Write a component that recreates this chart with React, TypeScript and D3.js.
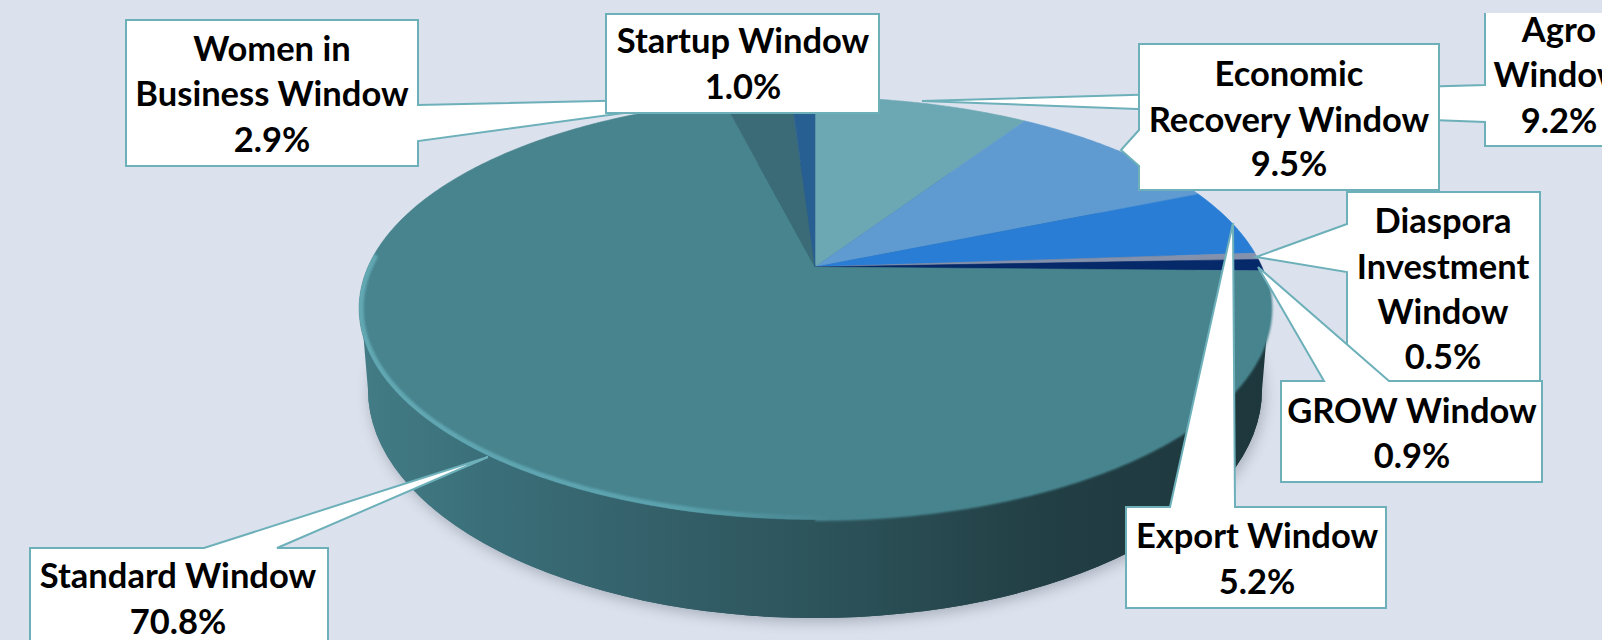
import React from "react";
import * as d3 from "d3";

const categories = ["Agro Window", "Economic Recovery Window", "Export Window", "Diaspora Investment Window", "GROW Window", "Standard Window", "Women in Business Window", "Startup Window"];
const shares = [9.2, 9.5, 5.2, 0.5, 0.9, 70.8, 2.9, 1.0];
const sliceColors = ["#6BA8B3", "#5F9BD0", "#2A7DD4", "#8491AC", "#06296A", "#47848E", "#3B6B77", "#285F92"];

type Callout = { name: string; lines: string[]; box: number[]; cx: number; base: number[]; pointer: number[][]; side: string };
// layout: box = x0,y0,x1,y1
const callouts: Callout[] = [
  { name: "Agro Window", lines: ["Agro", "Window", "9.2%"], box: [1485, 8, 1633, 146], cx: 1559, base: [42, 87, 133], side: "left", pointer: [[1485, 85], [922, 101], [1485, 122]] },
  { name: "Women in Business Window", lines: ["Women in", "Business Window", "2.9%"], box: [126, 20, 418, 166], cx: 272, base: [61, 106, 152], side: "right", pointer: [[418, 105], [734, 98], [418, 141]] },
  { name: "Startup Window", lines: ["Startup Window", "1.0%"], box: [606, 14, 879, 113], cx: 743, base: [53, 99], side: "none", pointer: [] },
  { name: "Economic Recovery Window", lines: ["Economic", "Recovery Window", "9.5%"], box: [1139, 44, 1439, 190], cx: 1289, base: [86, 132, 176], side: "left", pointer: [[1139, 130], [1121, 150], [1139, 166]] },
  { name: "Diaspora Investment Window", lines: ["Diaspora", "Investment", "Window", "0.5%"], box: [1347, 192, 1540, 381], cx: 1443, base: [233, 279, 324, 369], side: "left", pointer: [[1347, 224], [1256, 257], [1347, 272]] },
  { name: "GROW Window", lines: ["GROW Window", "0.9%"], box: [1281, 381, 1542, 482], cx: 1412, base: [423, 468], side: "top", pointer: [[1324, 381], [1258, 267], [1389, 381]] },
  { name: "Export Window", lines: ["Export Window", "5.2%"], box: [1126, 507, 1386, 608], cx: 1257, base: [548, 594], side: "top", pointer: [[1170, 507], [1233, 223], [1235, 507]] },
  { name: "Standard Window", lines: ["Standard Window", "70.8%"], box: [30, 548, 328, 680], cx: 178, base: [588, 634], side: "top", pointer: [[204, 548], [488, 457], [277, 548]] },
];

const APEX_X = 815, APEX_Y = 267, A = 447, B = 203, K = 0.196;
const project = (t: number): [number, number] => {
  const u = Math.sin(t), v = -Math.cos(t), d = 1 - K * v;
  return [APEX_X + (A * u) / d, APEX_Y + (B * v) / d];
};
const line = d3.line<[number, number]>();
const arcPts = (a0: number, a1: number) => {
  const n = Math.max(2, Math.ceil((a1 - a0) / 0.01));
  return d3.range(n + 1).map((i) => project(a0 + ((a1 - a0) * i) / n));
};

function calloutPath(c: Callout) {
  const [x0, y0, x1, y1] = c.box;
  const p = c.pointer;
  let pts: number[][] = [];
  if (c.side === "left") pts = [[x0, y0], [x1, y0], [x1, y1], [x0, y1], ...[...p].reverse()];
  else if (c.side === "right") pts = [[x0, y0], [x1, y0], ...p, [x1, y1], [x0, y1]];
  else if (c.side === "top") pts = [[x0, y0], ...p, [x1, y0], [x1, y1], [x0, y1]];
  else pts = [[x0, y0], [x1, y0], [x1, y1], [x0, y1]];
  return line(pts as [number, number][]) + "Z";
}

export default function App() {
  const pie = d3.pie<number>().sort(null).value((d) => d);
  const arcs = pie(shares);
  const wallX = d3.scaleLinear().domain([0, 1]).range([360, 1270]);
  const full = line(arcPts(0, Math.PI * 2)) + "Z";
  const rim = line(arcPts(Math.PI * 0.98, Math.PI * 1.52));
  const edge = line(arcPts(Math.PI * 0.52, Math.PI * 1.0));
  const wall = "M361,308 L368,390 A447,228 0 0 0 1262,390 L1269,308 Z";
  return (
    <svg width={1602} height={640} style={{ position: "absolute", left: 0, top: 0, display: "block" }} fontFamily="Lato, Carlito, sans-serif">
      <defs>
        <linearGradient id="wallG" gradientUnits="userSpaceOnUse" x1={wallX(0)} x2={wallX(1)} y1={0} y2={0}>
          <stop offset="0" stopColor="#437C86" />
          <stop offset="0.14" stopColor="#3A6F79" />
          <stop offset="0.3" stopColor="#35626C" />
          <stop offset="0.5" stopColor="#2D545B" />
          <stop offset="0.75" stopColor="#223F45" />
          <stop offset="1" stopColor="#1D373C" />
        </linearGradient>
        <linearGradient id="rimG" gradientUnits="userSpaceOnUse" x1={360} x2={830} y1={0} y2={0}>
          <stop offset="0" stopColor="#62A8B3" />
          <stop offset="0.65" stopColor="#5BA2AE" />
          <stop offset="1" stopColor="#5BA2AE" stopOpacity="0" />
        </linearGradient>
        <filter id="shadow" x="-10%" y="-10%" width="120%" height="125%"><feGaussianBlur stdDeviation="7" /></filter>
        <filter id="soft" x="-5%" y="-5%" width="110%" height="110%"><feGaussianBlur stdDeviation="1.3" /></filter>
        <clipPath id="page"><rect x={0} y={13} width={1602} height={627} /></clipPath>
        <clipPath id="face"><path d={full} /></clipPath>
      </defs>
      <rect width={1602} height={640} fill="#DBE2ED" />
      <g transform="translate(2,4)" filter="url(#shadow)" opacity={0.45} fill="#67707F">
        <ellipse cx={815} cy={390} rx={447} ry={228} />
      </g>
      <ellipse cx={815} cy={390} rx={447} ry={228} fill="url(#wallG)" />
      <path d={wall} fill="url(#wallG)" />
      {arcs.map((a, i) => (
        <path key={categories[i]} d={line([[APEX_X, APEX_Y], ...arcPts(a.startAngle, a.endAngle)]) + "Z"} fill={sliceColors[i]} stroke={sliceColors[i]} strokeWidth={0.6} />
      ))}
      <path d={edge} fill="none" stroke={sliceColors[5]} strokeWidth={3} filter="url(#soft)" />
      <g clipPath="url(#face)">
        <path d={rim} fill="none" stroke="url(#rimG)" strokeWidth={9} filter="url(#soft)" />
      </g>
      <g clipPath="url(#page)">
        {callouts.map((c) => (
          <g key={c.name}>
            <path d={calloutPath(c)} fill="#fff" stroke="#6DB0BA" strokeWidth={2} strokeLinejoin="miter" />
            {c.lines.map((l, i) => (
              <text key={i} x={c.cx} y={c.base[i]} textAnchor="middle" fontSize={34.5} fontWeight={700} fill="#000">{l}</text>
            ))}
          </g>
        ))}
      </g>
    </svg>
  );
}
